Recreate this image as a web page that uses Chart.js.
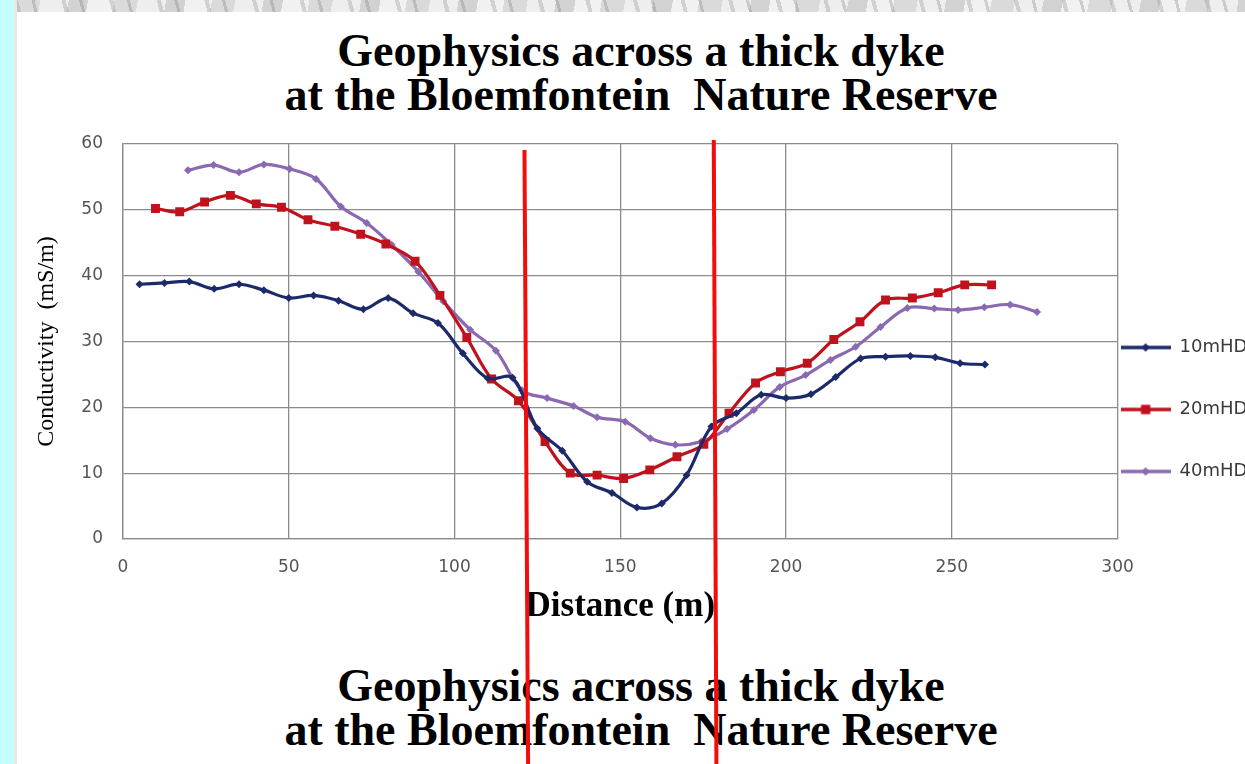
<!DOCTYPE html>
<html>
<head>
<meta charset="utf-8">
<script src="https://cdn.jsdelivr.net/npm/chart.js@4.4.1/dist/chart.umd.min.js"></script>
<style>
  html, body { margin: 0; padding: 0; width: 1245px; height: 764px; overflow: hidden; background: #fff; }
  #cyan { position: absolute; left: 0; top: 0; width: 14px; height: 764px; background: #c4ffff; }
  #edge { position: absolute; left: 14px; top: 0; width: 3px; height: 764px; background: #ebe7dc; }
  #marble { position: absolute; left: 17px; top: 0; width: 1228px; height: 12px;
    background:
      repeating-linear-gradient(75deg, rgba(150,150,150,0.35) 0 4px, rgba(255,255,255,0) 4px 17px, rgba(120,120,120,0.3) 17px 20px, rgba(255,255,255,0) 20px 46px),
      repeating-linear-gradient(100deg, #dadada 0 23px, #eeeeee 23px 51px, #d2d2d2 51px 70px, #f1f1f1 70px 96px); }
  .title { position: absolute; left: 0; width: 1282px; text-align: center; white-space: pre;
    font-family: "Liberation Serif", serif; font-weight: bold; font-size: 46px; line-height: 44px; color: #000; }
  #top { top: 29px; }
  #bottom { top: 664px; }
  #chartBox { position: absolute; left: 14px; top: 12px; width: 1290px; height: 752px; z-index: 2; }
</style>
</head>
<body>
<div id="cyan"></div>
<div id="edge"></div>
<div id="marble"></div>
<div class="title" id="top">Geophysics across a thick dyke
at the Bloemfontein  Nature Reserve</div>
<div class="title" id="bottom">Geophysics across a thick dyke
at the Bloemfontein  Nature Reserve</div>
<div id="chartBox"><canvas id="geoChart" width="1290" height="752"></canvas></div>

<script>
// Messpunkte (Abstand in m, Leitfaehigkeit in mS/m) je Spulenabstand
const dist10 = [5, 12.5, 20, 27.5, 35, 42.5, 50, 57.5, 65, 72.5, 80, 87.5, 95, 102.5, 110, 117.5, 125, 132.5,
  140, 147.5, 155, 162.5, 170, 177.5, 185, 192.5, 200, 207.5, 215, 222.5, 230, 237.5, 245, 252.5, 260];
const cond10 = [38.7, 38.9, 39.1, 38.0, 38.7, 37.8, 36.6, 37.0, 36.2, 34.9, 36.6, 34.3, 32.8, 28.2, 24.4, 24.5, 16.8, 13.4,
  8.7, 7.0, 4.8, 5.4, 9.7, 17.1, 19.1, 21.9, 21.4, 22.0, 24.6, 27.4, 27.7, 27.8, 27.6, 26.7, 26.5];

const dist20 = [9.8, 17.1, 24.6, 32.4, 40.2, 47.8, 55.8, 63.9, 71.7, 79.3, 88.1, 95.6, 103.7, 111.2, 119.3, 127.3, 134.9,
  143.0, 151.0, 158.9, 167.1, 175.2, 182.8, 190.8, 198.3, 206.4, 214.4, 222.3, 230.0, 238.1, 245.9, 253.9, 262.0];
const cond20 = [50.2, 49.7, 51.2, 52.2, 50.9, 50.4, 48.5, 47.5, 46.3, 44.8, 42.2, 37.0, 30.6, 24.3, 21.0, 14.8, 10.0,
  9.7, 9.2, 10.5, 12.5, 14.4, 19.1, 23.7, 25.4, 26.7, 30.3, 33.0, 36.3, 36.6, 37.4, 38.6, 38.6];

const dist40 = [19.6, 27.3, 35.0, 42.5, 50.3, 58.2, 65.7, 73.5, 81.0, 89.1, 96.6, 104.7, 112.5, 120.3, 127.9, 135.9, 143.0,
  151.5, 159.1, 166.6, 174.5, 182.2, 190.3, 198.1, 205.9, 213.4, 221.0, 228.5, 236.6, 244.7, 251.9, 259.8, 267.6, 275.7];
const cond40 = [56.0, 56.8, 55.7, 56.9, 56.2, 54.7, 50.5, 48.0, 44.7, 40.6, 36.1, 31.8, 28.6, 22.6, 21.4, 20.2, 18.5,
  17.8, 15.3, 14.3, 14.8, 16.7, 19.6, 23.1, 24.9, 27.2, 29.2, 32.2, 35.1, 35.0, 34.8, 35.2, 35.6, 34.5];

const seriesNames = ['10mHD', '20mHD', '40mHD'];

// Kontakte des Dykes (rote Linien), oben / unten
const dykeTopX = [121.1, 178.2];
const dykeBottomX = [122.2, 179.0];
const dykeTopY = [59.1, 60.6];
const dykeBottomY = -34.5;

const xTicks = [0, 50, 100, 150, 200, 250, 300];
const yTicks = [0, 10, 20, 30, 40, 50, 60];

const colors = ['#1c2a6b', '#c0121c', '#8a69b2'];
const marker = ['rectRot', 'rect', 'rectRot'];
const markerSize = [4, 6.3, 4];

function toPoints(xs, ys) {
    return xs.map((x, i) => ({ x: x, y: ys[i] }));
}

// kleines Legendensymbol: Linie mit Marker in der Mitte
function legendIcon(i) {
    const c = document.createElement('canvas');
    c.width = 50; c.height = 14;
    const g = c.getContext('2d');
    g.strokeStyle = colors[i];
    g.lineWidth = 3.5;
    g.beginPath(); g.moveTo(0, 7); g.lineTo(50, 7); g.stroke();
    g.fillStyle = colors[i];
    Chart.helpers.drawPoint(g, { pointStyle: marker[i], radius: markerSize[i], rotation: 0, borderWidth: 0 }, 25, 7);
    g.fill();
    return c;
}

const seriesData = [toPoints(dist10, cond10), toPoints(dist20, cond20), toPoints(dist40, cond40)];

const datasets = seriesData.map((pts, i) => ({
    label: seriesNames[i],
    data: pts,
    showLine: true,
    tension: 0.35,
    borderColor: colors[i],
    backgroundColor: colors[i],
    borderWidth: 3.2,
    pointStyle: marker[i],
    pointRadius: markerSize[i],
    pointBackgroundColor: colors[i],
    pointBorderColor: colors[i],
    pointBorderWidth: 0,
    order: 1
}));

dykeTopX.forEach((x, i) => {
    datasets.push({
        label: 'dyke' + i,
        data: [{ x: x, y: dykeTopY[i] }, { x: dykeBottomX[i], y: dykeBottomY }],
        showLine: true,
        borderColor: '#f20d0d',
        borderWidth: 4,
        pointRadius: 0,
        clip: false,
        order: 0
    });
});

const ctx = document.getElementById('geoChart');

const gridColor = '#8c8c8c';
const tickFont = { family: 'DejaVu Sans', size: 17 };

window.geoChartInstance = new Chart(ctx, {
    type: 'scatter',
    data: { datasets: datasets },
    options: {
        responsive: false,
        animation: false,
        devicePixelRatio: 1,
        layout: { padding: { left: 0, right: 46.6, top: 132, bottom: 48 } },
        plugins: {
            tooltip: { enabled: false },
            legend: {
                position: 'right',
                align: 'center',
                labels: {
                    usePointStyle: true,
                    pointStyleWidth: 50,
                    boxHeight: 14,
                    padding: 3,
                    color: '#3a3a3a',
                    font: { family: 'DejaVu Sans', size: 18, lineHeight: 59 / 18 },
                    filter: (item) => item.datasetIndex < 3,
                    generateLabels: (chart) => {
                        const items = Chart.defaults.plugins.legend.labels.generateLabels(chart);
                        items.forEach((it) => {
                            if (it.datasetIndex < 3) {
                                it.text = [it.text];
                                it.pointStyle = legendIcon(it.datasetIndex);
                            }
                        });
                        return items;
                    }
                }
            }
        },
        scales: {
            x: {
                type: 'linear',
                min: 0,
                max: 300,
                afterBuildTicks: (s) => { s.ticks = xTicks.map(v => ({ value: v })); },
                ticks: { padding: 18, color: '#555', font: tickFont },
                grid: { color: gridColor, lineWidth: 1.3, drawTicks: false },
                border: { color: gridColor, width: 1.3 },
                title: {
                    display: true,
                    text: 'Distance (m)',
                    color: '#000',
                    font: { family: 'Liberation Serif', size: 35, weight: 'bold' },
                    padding: { top: 0, bottom: 88 }
                },
                afterFit: (s) => { s.height = 177; }
            },
            y: {
                type: 'linear',
                min: 0,
                max: 60,
                afterBuildTicks: (s) => { s.ticks = yTicks.map(v => ({ value: v })); },
                ticks: { padding: 20, color: '#555', font: tickFont },
                grid: { color: gridColor, lineWidth: 1.3, drawTicks: false },
                border: { color: gridColor, width: 1.3 },
                title: {
                    display: true,
                    text: 'Conductivity  (mS/m)',
                    color: '#000',
                    font: { family: 'Liberation Serif', size: 24 },
                    padding: { top: 18, bottom: 0 }
                },
                afterFit: (s) => { s.width = 109; }
            }
        }
    }
});
</script>
</body>
</html>
